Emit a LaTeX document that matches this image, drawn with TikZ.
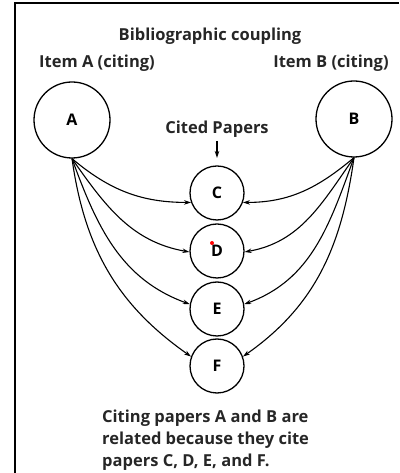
\documentclass[tikz,border=0pt]{standalone}
\usepackage{fontspec}
\setmainfont{Open Sans}
\usetikzlibrary{arrows.meta, positioning}

\begin{document}
\begin{tikzpicture}[x=1pt, y=1pt,
    paper/.style={draw, circle, line width=1.3pt, minimum size=54pt, inner sep=0pt, font=\bfseries\fontsize{16}{18}\selectfont},
    item/.style={paper, minimum size=76pt},
    cite/.style={-{Stealth[length=7pt, width=4.5pt]}, line width=1.1pt},
    lbl/.style={font=\bfseries\fontsize{16.5}{19}\selectfont, text=black!85}]

            \useasboundingbox (0,0) rectangle (399,473);
            \draw[line width=1.6pt] (15,0) -- (15,470) -- (399,470);

            \node[lbl] (title) at (210,437) {Bibliographic coupling};
            \node[lbl] (itemA) at (97,410) {Item A (citing)};
            \node[lbl] (itemB) at (331,410) {Item B (citing)};

            \node[item] (A) at (72,353) {A};
            \node[item] (B) at (354,354) {B};

            \node[paper] (C) at (217,280) {C};
            \node[paper] (D) at (217,222) {D};
            \node[paper] (E) at (217,164) {E};
            \node[paper] (F) at (217,107) {F};
            \fill[red] (212,230) circle (2pt);

            \node[lbl] (cited) at (217,344) {Cited Papers};
            \coordinate (citedtip) at (217,315);
            \draw[cite] (cited.south) -- (citedtip);

            \draw[cite] (A.south) to[out=-40, in=180] (C.200);
            \draw[cite] (A.south) to[out=-55, in=170] (D.182);
            \draw[cite] (A.south) to[out=-70, in=160] (E.170);
            \draw[cite] (A.south) to[out=-82, in=145] (F.160);

            \draw[cite] (B.south) to[out=-140, in=0] (C.340);
            \draw[cite] (B.south) to[out=-125, in=10] (D.358);
            \draw[cite] (B.south) to[out=-110, in=20] (E.10);
            \draw[cite] (B.south) to[out=-98, in=35] (F.20);

            \node[lbl, align=left, anchor=north west, inner sep=0pt, font=\bfseries\fontsize{16.5}{22}\selectfont] (note) at (102,63)
                {Citing papers A and B are\\related because they cite\\papers C, D, E, and F.};

        \end{tikzpicture}
\end{document}
